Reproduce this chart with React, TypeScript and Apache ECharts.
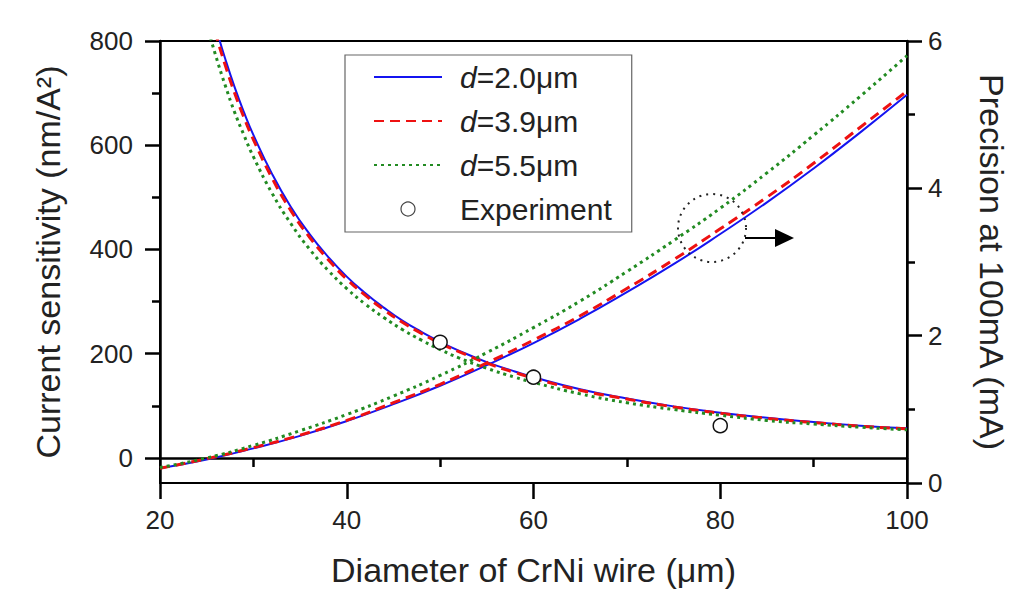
import React, { useEffect, useRef } from "react";
import * as echarts from "echarts";

const FONT = "'Liberation Sans', Arial, sans-serif";
const BLUE = "#1414f0";
const RED = "#ee1111";
const GREEN = "#228b22";
const TXT = "#222";

// tick values
const xTicks = [20, 40, 60, 80, 100];
const xMinorTicks = [30, 50, 70, 90];
const leftTicks = [0, 200, 400, 600, 800];
const leftMinorTicks = [100, 300, 500, 700];
const rightTicks = [0, 2, 4, 6];
const rightMinorTicks = [1, 3, 5];

// Current sensitivity (left axis)
const sensD = [25, 26, 27, 28, 29, 30, 32, 34, 36, 38, 40, 42, 44, 46, 48, 50, 52, 55, 58, 60, 65, 70, 75, 80, 85, 90, 95, 100];
const sensBlue = [892, 825, 765, 711, 663, 620, 545, 482, 430, 386, 348, 316, 288, 263, 242, 223, 206, 184, 166, 155, 132, 114, 99, 87, 77, 69, 62, 57];
const sensRed = [878, 812, 753, 700, 653, 611, 537, 475, 424, 381, 343, 312, 284, 260, 239, 220, 204, 182, 164, 153, 130, 113, 98, 86, 76, 68, 61, 56];
const sensGreen = [832, 770, 714, 663, 619, 578, 508, 450, 401, 360, 325, 295, 269, 246, 226, 208, 192, 172, 155, 145, 123, 106, 93, 82, 72, 65, 59, 54];

// Precision at 100mA (right axis)
const precD = [20, 25, 30, 35, 40, 45, 50, 55, 60, 65, 70, 75, 80, 85, 90, 95, 100];
const precBlue = [0.2, 0.32, 0.47, 0.64, 0.84, 1.07, 1.32, 1.6, 1.9, 2.23, 2.59, 2.97, 3.38, 3.81, 4.27, 4.76, 5.27];
const precRed = [0.2, 0.33, 0.48, 0.65, 0.85, 1.09, 1.34, 1.63, 1.94, 2.27, 2.64, 3.03, 3.45, 3.88, 4.34, 4.83, 5.32];
const precGreen = [0.21, 0.34, 0.51, 0.71, 0.93, 1.18, 1.46, 1.77, 2.11, 2.47, 2.87, 3.29, 3.73, 4.21, 4.72, 5.25, 5.8];

// Experiment
const expD = [50, 60, 80];
const expS = [222, 155, 62];

const legendNames = ["d=2.0μm", "d=3.9μm", "d=5.5μm", "Experiment"];

const zip = (xs: number[], ys: number[]) => xs.map((x, i) => [x, ys[i]]);

const ls = () => ({ color: "#000", width: 2.5 });

const tickHelper = (position: string, min: number, max: number, values: number[], length: number) => ({
  type: "value",
  position,
  min,
  max,
  axisLine: { show: false },
  axisTick: { show: true, length, lineStyle: ls(), customValues: values },
  axisLabel: { show: false },
  splitLine: { show: false },
});

export default function App() {
  const ref = useRef<HTMLDivElement>(null);
  useEffect(() => {
    const chart = echarts.init(ref.current!, null, { renderer: "svg" });
    const lineSeries = (name: string, data: number[][], yAxisIndex: number, color: string, width: number, type: any, z: number) => ({
      name,
      type: "line",
      xAxisIndex: 0,
      yAxisIndex,
      data,
      smooth: true,
      symbol: "none",
      clip: true,
      z,
      lineStyle: { color, width, type },
      itemStyle: { color },
    });
    const option: any = {
      animation: false,
      backgroundColor: "#fff",
      textStyle: { fontFamily: FONT },
      grid: {
        left: 160,
        right: 117,
        top: 41,
        bottom: 117,
        show: true,
        borderColor: "#000",
        borderWidth: 2,
        outerBoundsMode: "none",
      },
      legend: {
        orient: "vertical",
        left: 345,
        top: 55,
        padding: [7, 20, 8, 28],
        itemGap: 14,
        itemWidth: 68,
        itemHeight: 14,
        borderColor: "#666",
        borderWidth: 1.2,
        backgroundColor: "#fff",
        data: [
          { name: legendNames[0], itemStyle: { opacity: 0 } },
          { name: legendNames[1], itemStyle: { opacity: 0 } },
          { name: legendNames[2], itemStyle: { opacity: 0 } },
          { name: legendNames[3], itemStyle: { color: "#fff", borderColor: "#444", borderWidth: 1.2, opacity: 1 } },
        ],
        formatter: (name: string) => (name === "Experiment" ? "{n|Experiment}" : "{i|d}{n|" + name.slice(1) + "}"),
        textStyle: {
          fontSize: 30,
          color: TXT,
          fontFamily: FONT,
          lineHeight: 30,
          padding: [0, 0, 0, 13],
          rich: {
            i: { fontStyle: "italic", fontSize: 30, fontFamily: FONT, color: TXT, lineHeight: 30 },
            n: { fontSize: 30, fontFamily: FONT, color: TXT, lineHeight: 30 },
          },
        },
      },
      xAxis: [
        {
          type: "value",
          position: "bottom",
          min: 20,
          max: 100,
          interval: 20,
          name: "Diameter of CrNi wire (μm)",
          nameLocation: "middle",
          nameGap: 70,
          nameTextStyle: { fontSize: 34, color: TXT, fontFamily: FONT },
          axisLine: { show: true, lineStyle: ls() },
          axisTick: { show: false },
          axisLabel: { fontSize: 26, color: TXT, margin: 24, fontFamily: FONT },
          splitLine: { show: false },
        },
        tickHelper("bottom", 20, 100, xTicks, 16),
        tickHelper("bottom", 20, 100, xMinorTicks, 9),
      ],
      yAxis: [
        {
          type: "value",
          position: "left",
          min: -48,
          max: 800,
          name: "Current sensitivity (nm/A²)",
          nameLocation: "middle",
          nameGap: 95,
          nameRotate: 90,
          nameTextStyle: { fontSize: 34, color: TXT, fontFamily: FONT },
          axisLine: { show: true, lineStyle: ls() },
          axisTick: { show: false },
          axisLabel: { fontSize: 26, color: TXT, margin: 27, fontFamily: FONT, customValues: leftTicks },
          splitLine: { show: false },
        },
        {
          type: "value",
          position: "right",
          min: 0,
          max: 6,
          interval: 2,
          name: "Precision at 100mA (mA)",
          nameLocation: "middle",
          nameGap: 68,
          nameRotate: -90,
          nameTextStyle: { fontSize: 34, color: TXT, fontFamily: FONT },
          axisLine: { show: true, lineStyle: ls() },
          axisTick: { show: false },
          axisLabel: { fontSize: 26, color: TXT, margin: 21, fontFamily: FONT },
          splitLine: { show: false },
        },
        tickHelper("left", -48, 800, leftTicks, 15),
        tickHelper("left", -48, 800, leftMinorTicks, 8),
        tickHelper("right", 0, 6, rightTicks, 15),
        tickHelper("right", 0, 6, rightMinorTicks, 8),
      ],
      series: [
        lineSeries("d=2.0μm", zip(sensD, sensBlue), 0, BLUE, 2, "solid", 3),
        lineSeries("d=2.0μm", zip(precD, precBlue), 1, BLUE, 2, "solid", 3),
        lineSeries("d=3.9μm", zip(sensD, sensRed), 0, RED, 3, [10, 6], 4),
        lineSeries("d=3.9μm", zip(precD, precRed), 1, RED, 3, [10, 6], 4),
        lineSeries("d=5.5μm", zip(sensD, sensGreen), 0, GREEN, 3, [3, 4], 5),
        lineSeries("d=5.5μm", zip(precD, precGreen), 1, GREEN, 3, [3, 4], 5),
        {
          name: "Experiment",
          type: "scatter",
          xAxisIndex: 0,
          yAxisIndex: 0,
          data: zip(expD, expS),
          symbol: "circle",
          symbolSize: 14,
          z: 10,
          itemStyle: { color: "#fff", borderColor: "#111", borderWidth: 1.5, opacity: 1 },
        },
      ],
      graphic: [
        {
          type: "circle",
          shape: { cx: 712, cy: 228, r: 34 },
          style: { fill: "none", stroke: "#222", lineWidth: 2, lineDash: [2, 5] },
          z: 20,
        },
        {
          type: "line",
          shape: { x1: 745, y1: 238, x2: 778, y2: 238 },
          style: { stroke: "#000", lineWidth: 2 },
          z: 20,
        },
        {
          type: "polygon",
          shape: { points: [[775, 229], [794, 238], [775, 247]] },
          style: { fill: "#000" },
          z: 20,
        },
      ],
    };
    chart.setOption(option);
    return () => chart.dispose();
  }, []);
  return (
    <div
      ref={ref}
      style={{ position: "absolute", left: 0, top: 0, width: 1024, height: 600, background: "#fff" }}
    />
  );
}
